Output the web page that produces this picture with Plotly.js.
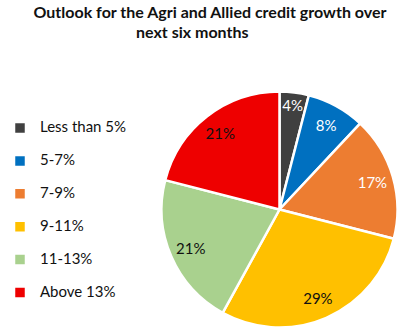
<!DOCTYPE html>
<html>
<head>
<meta charset="utf-8">
<script src="https://cdn.plot.ly/plotly-3.0.1.min.js"></script>
<style>html,body{margin:0;padding:0;background:#fff;}#chart{width:400px;height:332px;}</style>
</head>
<body>
<div id="chart"></div>
<script>
const categories = ["Less than 5%", "5-7%", "7-9%", "9-11%", "11-13%", "Above 13%"];
const shares = [4, 8, 17, 29, 21, 21];
const sliceColors = ["#404040", "#0070C0", "#ED7D31", "#FFC000", "#A9D18E", "#EE0000"];
const labelColors = ["#ffffff", "#ffffff", "#ffffff", "#111111", "#111111", "#111111"];
const titleLine1 = "Outlook for the Agri and Allied credit growth over";
const titleLine2 = "next six months";

const FONT = "Lato, 'Open Sans', sans-serif";
const legendLabels = categories.map(c => "<span style='font-size:15px'>" + c + "</span><br> ");

const domain = {x: [0.40375, 0.99375], y: [0.0136, 0.7244]};

const pieTrace = {
  type: "pie",
  labels: legendLabels,
  values: shares,
  sort: false,
  direction: "clockwise",
  rotation: 0,
  domain: domain,
  marker: {colors: sliceColors, line: {color: "#ffffff", width: 2.5}},
  textinfo: "none",
  hoverinfo: "skip"
};

const textTrace = {
  type: "pie",
  labels: legendLabels,
  values: shares,
  sort: false,
  direction: "clockwise",
  rotation: 0,
  domain: domain,
  hole: 0.64,
  showlegend: false,
  marker: {colors: categories.map(() => "rgba(0,0,0,0)"), line: {width: 0}},
  textinfo: "percent",
  textposition: "inside",
  insidetextorientation: "horizontal",
  textfont: {family: FONT, size: 15, color: labelColors},
  hoverinfo: "skip"
};

const layout = {
  width: 400, height: 332,
  margin: {l: 0, r: 0, t: 0, b: 0},
  paper_bgcolor: "#ffffff",
  font: {family: FONT, color: "#111111"},
  title: {
    text: "<b>" + titleLine1 + "</b>",
    font: {family: FONT, size: 16, color: "#111111"},
    x: 210 / 400, xanchor: "center", xref: "paper",
    y: 1 - 12 / 332, yanchor: "middle", yref: "container"
  },
  annotations: [{
    text: "<b>" + titleLine2 + "</b>",
    font: {family: FONT, size: 16, color: "#111111"},
    x: 192 / 400, xref: "paper", xanchor: "center",
    y: 1 - 31 / 332, yref: "paper", yanchor: "middle",
    showarrow: false
  }],
  uniformtext: {mode: "show", minsize: 15},
  showlegend: true,
  legend: {
    x: 0, xanchor: "left",
    y: 1 - 114 / 332, yanchor: "top",
    font: {family: FONT, size: 11.5, color: "#111111"},
    valign: "top",
    bgcolor: "rgba(0,0,0,0)",
    itemclick: false
  }
};

Plotly.newPlot("chart", [pieTrace, textTrace], layout, {displayModeBar: false, staticPlot: true});
</script>
</body>
</html>
